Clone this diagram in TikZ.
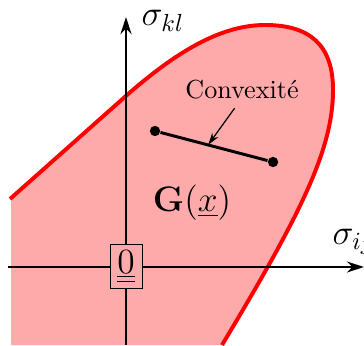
\documentclass[tikz,border=0pt]{standalone}
\usetikzlibrary{arrows.meta, positioning, calc}
\definecolor{zonefill}{RGB}{255,170,170}

\begin{document}
\begin{tikzpicture}[x=0.406pt, y=0.406pt,
    dot/.style={circle, fill=black, inner sep=0pt, minimum size=4.2pt}]
        \useasboundingbox (0,0) rectangle (364,345);
        % domaine G(x)
        \fill[zonefill] (11,146) -- (127,250) .. controls (175,292) and (220,320) .. (265,320)
            .. controls (310,320) and (333,300) .. (333,255)
            .. controls (333,195) and (300,130) .. (222,0) -- (11,0) -- cycle;
        \draw[red, line width=1.6pt] (10,146) -- (127,250) .. controls (175,292) and (220,320) .. (265,320)
            .. controls (310,320) and (333,300) .. (333,255)
            .. controls (333,195) and (300,130) .. (222,0);

        % axes
        \coordinate (xstart) at (8,78);
        \coordinate (xend) at (364,78);
        \coordinate (ybot) at (126,0);
        \coordinate (ytop) at (126,328);
        \draw[-{Stealth[length=7pt, width=4.5pt]}, line width=0.8pt] (xstart) -- (xend);
        \draw[-{Stealth[length=7pt, width=4.5pt]}, line width=0.8pt] (ybot) -- (ytop);
        \node[draw, fill=zonefill, minimum width=13pt, minimum height=17.5pt, inner sep=0pt, font=\Large] (zero) at (126,78.5) {$\underline{\underline{0}}$};
        \node[font=\Large, anchor=west] (skl) at (133,324) {$\sigma_{kl}$};
        \node[font=\Large, anchor=west] (sij) at (324,103) {$\sigma_{ij}$};

        % segment
        \node[dot] (p1) at (155,214) {};
        \node[dot] (p2) at (273,183) {};
        \draw[line width=1.2pt] (p1) -- (p2);
        \coordinate (mid) at ($(p1)!0.45!(p2)$);
        \node[font=\fontsize{10.6}{12}\selectfont] (conv) at (242,255) {Convexit\'e};
        \draw[-{Stealth[length=5pt, width=3pt]}, line width=0.5pt] ([xshift=-3pt]conv.south) -- (mid);

        \node[font=\Large] (gx) at (192,142) {$\mathbf{G}(\underline{x})$};
    \end{tikzpicture}
\end{document}
